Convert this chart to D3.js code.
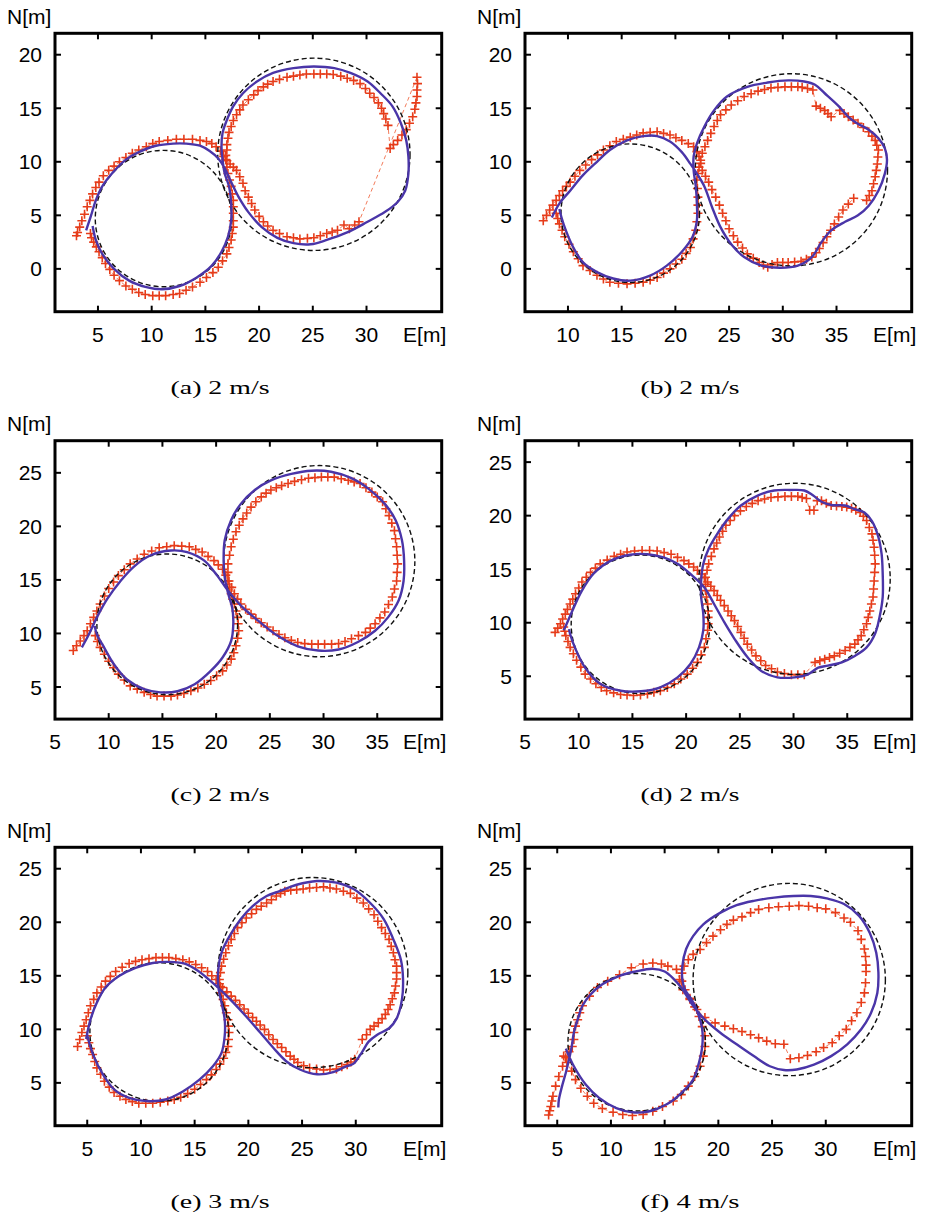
<!DOCTYPE html>
<html>
<head>
<meta charset="utf-8">
<script src="https://cdn.jsdelivr.net/npm/d3@7"></script>
<style>
  body { margin: 0; background: #fff; }
  svg text { font-family: "Liberation Sans", Arial, sans-serif; fill: #000; }
</style>
</head>
<body>
<svg id="chart" width="925" height="1222"></svg>
<script>
// panel labels and speeds
const panelIds = ["a", "b", "c", "d", "e", "f"];
const speeds = ["2 m/s", "2 m/s", "2 m/s", "2 m/s", "3 m/s", "4 m/s"];

// axis ranges [min, max] in metres
const xDomains = [[1, 37], [6, 42], [5, 41], [5, 41], [2, 38], [2, 38]];
const yDomains = [[-4, 22], [-4, 22], [2, 28], [1, 27], [1, 27], [1, 27]];

// tick labels
const xTicks = [
  [5, 10, 15, 20, 25, 30],
  [10, 15, 20, 25, 30, 35],
  [5, 10, 15, 20, 25, 30, 35],
  [5, 10, 15, 20, 25, 30, 35],
  [5, 10, 15, 20, 25, 30],
  [5, 10, 15, 20, 25, 30]
];
const yTicks = [
  [0, 5, 10, 15, 20],
  [0, 5, 10, 15, 20],
  [5, 10, 15, 20, 25],
  [5, 10, 15, 20, 25],
  [5, 10, 15, 20, 25],
  [5, 10, 15, 20, 25]
];

// reference circles [E, N, radius]
const circlesA = [[11.1, 4.7, 6.35], [25.1, 10.7, 8.95]];
const circlesB = [[15.8, 5.2, 6.45], [30.8, 9.25, 8.95]];
const circlesC = [[15.45, 10.85, 6.55], [29.6, 16.75, 8.9]];
const circlesD = [[15.75, 9.85, 6.45], [30.1, 14.1, 8.9]];
const circlesE = [[11.7, 9.75, 6.45], [26.0, 15.3, 8.85]];
const circlesF = [[12.4, 8.8, 6.4], [26.6, 14.65, 8.95]];

// blue (solid) trajectories [E, N]
const blueA = [[3.9,3.6],[4.3,4.8],[4.8,6.4],[5.4,7.7],[6.3,8.9],[7.6,10.2],[8.8,10.9],[10.4,11.5],[12.0,11.7],[13.2,11.7],[14.5,11.5],[15.4,11.0],[16.2,10.3],[16.8,9.4],[17.4,8.1],[18.1,6.7],[19.0,5.3],[20.25,3.9],[21.7,2.9],[23.2,2.4],[24.8,2.3],[26.3,2.7],[28.2,3.4],[30.1,4.4],[31.7,5.3],[32.9,6.25],[33.6,7.3],[33.9,8.9],[33.9,10.5],[33.7,12.0],[33.2,13.6],[32.4,15.2],[31.3,16.4],[30.1,17.5],[28.5,18.3],[27.0,18.75],[25.1,18.9],[23.2,18.75],[21.3,18.3],[19.8,17.5],[18.5,16.4],[17.6,15.2],[17.0,13.9],[16.6,12.7],[16.5,11.4],[16.6,10.2],[16.8,8.9],[17.2,7.7],[17.4,6.1],[17.4,4.5],[17.1,3.0],[16.5,1.6],[15.6,0.3],[14.2,-0.8],[12.6,-1.6],[11.0,-1.9],[9.5,-1.7],[7.9,-1.1],[6.5,0.0],[5.4,1.4],[4.8,2.7],[4.5,4.0]];
const blueB = [[8.5,4.8],[9.2,6.1],[10.2,7.3],[11.4,8.75],[12.7,10.0],[13.9,11.1],[15.5,12.0],[17.0,12.4],[18.3,12.4],[19.5,11.9],[20.6,10.9],[21.4,9.8],[22.0,8.9],[22.7,7.7],[23.4,5.8],[24.2,3.9],[25.2,2.3],[26.4,1.1],[28.0,0.3],[29.8,0.1],[31.4,0.3],[32.7,1.1],[33.6,2.5],[34.5,3.6],[35.8,4.4],[37.0,5.0],[38.0,5.9],[38.9,7.3],[39.5,8.9],[39.7,10.2],[39.5,11.25],[38.9,12.2],[38.0,13.0],[36.9,13.6],[36.1,14.2],[35.2,15.2],[33.9,16.4],[33.0,17.2],[32.0,17.5],[30.5,17.6],[28.6,17.4],[26.7,17.0],[24.8,16.1],[23.6,14.8],[22.7,13.3],[22.0,11.7],[21.7,10.5],[21.7,9.2],[21.9,7.7],[22.0,6.1],[22.0,4.5],[21.6,3.0],[20.6,1.6],[19.2,0.3],[17.7,-0.6],[15.8,-1.1],[14.2,-0.9],[12.7,-0.3],[11.4,0.6],[10.5,2.0],[9.8,3.6],[9.4,4.8],[9.2,5.6]];
const blueC = [[7.5,8.7],[8.1,9.8],[8.9,11.5],[9.85,13.2],[11.1,14.9],[12.3,16.2],[13.9,17.3],[15.8,17.75],[17.3,17.6],[18.9,16.8],[20.1,15.4],[21.1,14.0],[22.3,12.6],[23.9,11.2],[25.7,9.8],[27.6,8.8],[29.5,8.4],[31.4,8.5],[33.2,9.2],[34.8,10.25],[36.0,11.5],[37.0,13.1],[37.45,14.9],[37.5,16.8],[37.3,18.7],[36.7,20.6],[35.7,22.1],[34.2,23.5],[32.6,24.5],[30.7,25.1],[28.9,25.2],[27.0,24.9],[25.1,24.3],[23.6,23.4],[22.3,22.1],[21.4,20.6],[20.8,18.7],[20.7,16.8],[20.8,15.25],[21.1,13.8],[21.5,12.4],[21.6,10.9],[21.4,9.3],[20.6,7.75],[19.5,6.5],[18.0,5.25],[16.4,4.6],[14.8,4.5],[13.3,4.8],[11.7,5.7],[10.5,7.1],[9.4,9.0],[8.9,9.9],[8.7,10.7]];
const blueD = [[8.6,9.3],[8.75,9.6],[9.4,11.1],[10.3,13.0],[11.4,14.6],[13.0,15.8],[14.8,16.35],[16.4,16.4],[17.9,16.1],[19.2,15.5],[20.4,14.55],[21.7,13.3],[22.6,11.75],[23.55,10.05],[24.5,8.5],[25.7,6.8],[27.0,5.5],[28.5,4.9],[30.1,4.9],[31.3,5.15],[32.3,5.8],[33.2,6.0],[34.5,6.3],[35.7,6.9],[36.8,7.7],[37.6,9.0],[38.0,10.5],[38.3,12.4],[38.3,14.6],[38.2,16.4],[37.9,18.0],[37.3,19.5],[36.6,20.3],[35.7,20.6],[34.8,20.95],[33.5,21.0],[32.6,21.3],[31.8,21.9],[31.0,22.35],[29.7,22.4],[28.2,22.35],[26.7,21.9],[25.1,20.95],[23.9,19.7],[22.9,18.3],[22.1,16.9],[21.6,15.5],[21.4,13.9],[21.4,12.4],[21.6,10.8],[21.6,9.3],[21.2,7.7],[20.4,6.15],[19.2,4.9],[17.6,3.97],[15.8,3.6],[13.9,3.65],[12.0,4.3],[10.6,5.8],[9.7,7.55],[9.2,8.95],[9.1,9.4]];
const blueE = [[4.9,9.1],[5.3,10.9],[5.9,12.5],[6.7,13.9],[8.0,15.0],[9.5,15.75],[11.1,16.2],[12.6,16.3],[14.2,16.1],[15.4,15.4],[16.5,14.5],[17.5,13.6],[18.6,12.5],[19.8,11.2],[21.1,9.7],[22.3,8.3],[23.55,7.0],[24.8,6.25],[26.4,5.8],[27.9,6.0],[29.0,6.5],[29.8,6.8],[30.6,7.9],[31.2,8.85],[32.0,9.5],[33.1,10.1],[33.8,11.0],[34.3,12.8],[34.4,14.7],[34.2,16.5],[33.5,18.4],[32.6,20.3],[31.35,21.8],[29.8,23.1],[28.2,23.7],[26.4,23.85],[24.5,23.5],[22.9,22.9],[21.7,22.45],[20.4,21.5],[19.3,20.3],[18.25,18.7],[17.5,17.15],[17.2,15.6],[17.2,14.0],[17.5,12.5],[17.8,10.9],[17.8,9.4],[17.5,7.8],[16.7,6.55],[15.45,5.3],[13.9,4.2],[12.3,3.45],[10.5,3.3],[8.9,3.6],[7.5,4.4],[6.4,5.9],[5.6,7.5],[5.1,9.05],[5.0,9.5]];
const blueF = [[5.1,2.7],[5.15,3.4],[5.45,4.7],[5.8,5.95],[6.1,7.2],[6.35,8.4],[6.55,9.7],[6.9,10.9],[7.35,12.2],[8.1,13.25],[9.2,14.2],[10.8,15.0],[12.3,15.4],[13.9,15.65],[15.0,15.4],[15.9,14.65],[16.55,13.9],[17.65,12.2],[18.75,10.9],[20.15,9.7],[21.7,8.6],[23.3,7.5],[24.8,6.55],[26.1,6.2],[27.3,6.25],[28.9,6.7],[30.5,7.5],[32.0,8.6],[33.3,10.0],[34.2,11.5],[34.8,13.4],[34.9,15.3],[34.7,17.15],[34.1,19.0],[33.1,20.6],[31.7,21.7],[30.2,22.2],[28.6,22.45],[27.0,22.45],[25.2,22.3],[23.3,22.0],[21.7,21.6],[20.2,20.9],[18.6,19.8],[17.65,18.7],[17.0,17.5],[16.65,15.9],[16.65,14.65],[16.9,13.7],[17.5,12.8],[18.1,11.5],[18.5,10.0],[18.5,8.4],[18.2,6.9],[17.65,5.3],[16.6,4.1],[15.2,3.0],[13.6,2.35],[12.0,2.25],[10.5,2.65],[8.9,3.6],[7.65,4.85],[6.55,6.55],[5.8,8.2]];

// red (+) measured positions [E, N]
const redA = [[3.0,3.1],[3.1,3.4],[3.3,3.9],[3.5,4.5],[3.75,5.1],[4.0,5.8],[4.25,6.4],[4.5,7.0],[4.8,7.6],[5.1,8.1],[5.5,8.7],[6.0,9.2],[6.5,9.6],[7.0,10.0],[7.6,10.4],[8.2,10.8],[8.8,11.1],[9.5,11.4],[10.1,11.7],[10.7,11.9],[11.5,12.0],[12.3,12.1],[13.0,12.1],[13.8,12.1],[14.5,12.0],[15.1,11.9],[15.6,11.7],[16.0,11.4],[16.4,11.0],[16.7,10.5],[17.0,10.1],[17.3,9.8],[17.6,9.5],[17.9,9.2],[18.2,8.6],[18.5,8.0],[18.7,7.3],[19.0,6.7],[19.3,6.1],[19.6,5.5],[20.0,4.9],[20.4,4.4],[20.8,4.0],[21.3,3.6],[21.9,3.3],[22.6,3.0],[23.2,2.9],[23.8,2.8],[24.5,2.85],[25.1,2.9],[25.7,3.1],[26.3,3.3],[26.8,3.45],[27.3,3.6],[27.9,4.1],[28.4,3.75],[28.9,4.1],[29.3,4.4],
  [34.7,17.9],[34.75,17.3],[34.7,16.7],[34.7,16.1],[34.6,15.5],[34.5,14.9],[34.3,14.2],[34.0,13.6],[33.7,13.0],[33.3,12.5],[32.9,12.0],[32.5,11.6],[32.2,11.25],
  [32.0,13.4],[31.8,14.0],[31.6,14.5],[31.4,15.0],[31.1,15.5],[30.7,16.0],[30.3,16.4],[29.9,16.85],[29.4,17.3],[28.8,17.6],[28.2,17.8],[27.6,18.0],[26.9,18.15],[26.3,18.2],[25.7,18.2],[25.1,18.2],[24.4,18.2],[23.8,18.1],[23.2,18.0],[22.6,17.9],[21.9,17.7],[21.3,17.5],[20.8,17.25],[20.4,17.0],[19.9,16.65],[19.5,16.25],[19.0,15.8],[18.5,15.3],[18.2,14.85],[17.9,14.4],[17.6,13.85],[17.4,13.3],[17.2,12.75],[17.1,12.2],[17.0,11.6],[17.0,11.1],[16.9,10.6],[16.9,10.2],[17.0,9.5],[17.1,8.9],[17.25,8.3],[17.4,7.7],[17.5,7.0],[17.6,6.4],[17.6,5.8],[17.6,5.2],[17.6,4.5],[17.6,3.9],[17.5,3.3],[17.4,2.7],[17.2,2.0],[17.0,1.4],[16.6,0.75],[16.2,0.15],[15.7,-0.35],[15.1,-0.8],[14.5,-1.25],[13.8,-1.7],[13.2,-2.0],[12.6,-2.3],[12.0,-2.4],[11.3,-2.5],[10.7,-2.5],[10.1,-2.5],[9.4,-2.4],[8.8,-2.2],[8.2,-1.9],[7.6,-1.6],[7.0,-1.1],[6.5,-0.6],[6.1,-0.05],[5.7,0.5],[5.4,1.05],[5.1,1.6],[4.85,2.05],[4.6,2.5],[4.4,2.9],[4.3,3.3]];
const redB = [[7.7,4.5],[8.0,5.0],[8.3,5.5],[8.6,5.95],[8.9,6.4],[9.2,6.85],[9.5,7.3],[9.85,7.7],[10.2,8.1],[10.65,8.65],[11.1,9.2],[11.65,9.7],[12.2,10.2],[12.75,10.65],[13.3,11.1],[13.9,11.5],[14.5,11.9],[15.15,12.1],[15.8,12.3],[16.4,12.5],[17.0,12.7],[17.65,12.75],[18.3,12.8],[18.9,12.65],[19.5,12.5],[20.05,12.25],[20.6,12.0],[21.2,11.7],[21.7,11.4],[22.0,10.95],[22.2,10.5],[22.35,9.85],[22.5,9.2],[22.8,8.65],[23.1,8.1],[23.4,7.4],[23.75,6.7],[24.1,5.95],[24.4,5.2],[24.7,4.5],[25.0,3.75],[25.4,3.1],[25.8,2.5],[26.25,1.95],[26.7,1.4],[27.25,1.0],[27.8,0.6],[28.2,0.35],[28.6,0.15],[29.0,0.4],[29.5,0.6],[30.0,0.6],[30.5,0.6],[31.1,0.65],[31.7,0.7],[32.2,0.9],[32.7,1.1],[33.1,1.5],[33.4,1.9],[33.75,2.45],[34.1,3.0],[34.45,3.6],[34.8,4.2],[35.2,4.85],[35.6,5.5],[36.1,6.05],[36.6,6.6],
  [37.8,6.4],[38.05,6.85],[38.3,7.3],[38.45,7.95],[38.6,8.6],[38.7,9.2],[38.8,9.8],[38.85,10.45],[38.9,11.1],[38.75,11.55],[38.6,12.0],[38.3,12.4],[38.0,12.8],[37.5,13.2],[37.0,13.6],[36.55,13.9],[36.1,14.2],[35.7,14.5],[35.3,14.8],
  [34.5,14.2],[34.2,14.5],[33.9,14.8],[33.5,15.0],[33.1,15.2],[32.8,16.7],[32.3,16.85],
  [31.8,16.95],[31.4,17.0],[30.8,17.0],[30.2,17.0],[29.55,16.95],[28.9,16.9],[28.3,16.75],[27.7,16.6],[27.05,16.35],[26.4,16.1],[25.8,15.7],[25.2,15.3],[24.7,14.85],[24.2,14.4],[23.9,13.85],[23.6,13.3],[23.3,12.65],[23.0,12.0],[22.75,11.4],[22.5,10.8],[22.35,10.15],[22.2,9.5],[22.1,8.9],[22.0,8.3],[22.05,7.5],[22.1,6.7],[22.1,5.95],[22.1,5.2],[22.0,4.4],[21.9,3.6],[21.65,2.8],[21.4,2.0],[21.0,1.45],[20.6,0.9],[20.05,0.45],[19.5,0.0],[18.9,-0.4],[18.3,-0.8],[17.65,-1.05],[17.0,-1.25],[16.25,-1.35],[15.5,-1.4],[14.7,-1.35],[13.9,-1.25],[13.3,-0.95],[12.7,-0.6],[12.05,-0.15],[11.4,0.3],[10.95,0.95],[10.5,1.6],[10.1,2.3],[9.7,3.0],[9.45,3.6],[9.2,4.2],[9.05,4.7],[8.9,5.2]];
const redC = [[6.7,8.4],[7.0,8.85],[7.35,9.3],[7.7,9.8],[8.0,10.25],[8.3,10.9],[8.6,11.5],[8.9,12.1],[9.2,12.75],[9.6,13.5],[10.0,14.2],[10.45,14.8],[10.9,15.4],[11.45,15.95],[12.0,16.5],[12.65,16.95],[13.3,17.4],[14.0,17.7],[14.7,18.0],[15.4,18.1],[16.1,18.2],[16.8,18.15],[17.5,18.1],[18.1,17.85],[18.7,17.6],[19.25,17.2],[19.8,16.8],[20.2,16.4],[20.6,16.0],[20.9,15.45],[21.2,14.9],[21.45,14.3],[21.7,13.7],[22.0,13.2],[22.3,12.75],[22.75,12.25],[23.25,11.8],[23.7,11.4],[24.2,11.0],[24.75,10.6],[25.3,10.25],[25.85,9.9],[26.4,9.6],[27.0,9.35],[27.6,9.15],[28.25,9.05],[28.9,9.0],[29.5,9.0],[30.1,9.0],[30.75,9.0],[31.4,9.05],[32.0,9.25],[32.6,9.5],[33.25,9.8],[33.9,10.1],[34.35,10.5],[34.8,10.9],[35.25,11.45],[35.7,12.0],[36.05,12.7],[36.4,13.4],[36.6,14.15],[36.8,14.9],[36.85,15.7],[36.9,16.5],[36.85,17.3],[36.8,18.1],[36.7,18.85],[36.6,19.6],[36.35,20.3],[36.1,21.0],[35.8,21.65],[35.5,22.3],[35.0,22.75],[34.5,23.2],[33.95,23.6],[33.4,24.0],[32.85,24.15],[32.3,24.3],[31.65,24.45],[31.0,24.6],[30.4,24.6],[29.8,24.6],[29.2,24.55],[28.6,24.5],[27.95,24.35],[27.3,24.2],[26.7,24.0],[26.1,23.8],[25.6,23.6],[25.1,23.4],[24.65,23.1],[24.2,22.75],[23.7,22.3],[23.25,21.8],[22.85,21.25],[22.5,20.7],[22.15,20.1],[21.85,19.5],[21.6,18.8],[21.4,18.1],[21.25,17.3],[21.1,16.5],[21.1,15.7],[21.1,14.9],[21.25,14.3],[21.4,13.7],[21.55,13.2],[21.7,12.75],[21.85,12.1],[22.0,11.5],[22.05,10.9],[22.1,10.25],[22.0,9.55],[21.85,8.85],[21.65,8.2],[21.4,7.6],[21.0,7.05],[20.6,6.5],[20.05,6.05],[19.5,5.6],[18.9,5.25],[18.3,4.9],[17.65,4.65],[17.0,4.4],[16.4,4.25],[15.8,4.15],[15.15,4.15],[14.5,4.15],[13.9,4.3],[13.3,4.5],[12.65,4.8],[12.0,5.1],[11.45,5.65],[10.9,6.2],[10.45,6.8],[10.0,7.4],[9.6,8.05],[9.2,8.7],[8.95,9.25],[8.75,9.8]];
const redD = [[7.8,9.1],[8.05,9.5],[8.3,9.9],[8.5,10.35],[8.75,10.8],[8.95,11.25],[9.2,11.75],[9.45,12.2],[9.7,12.7],[10.0,13.25],[10.3,13.8],[10.7,14.25],[11.1,14.7],[11.55,15.1],[12.0,15.5],[12.65,15.85],[13.3,16.2],[13.9,16.4],[14.5,16.6],[15.2,16.7],[15.9,16.75],[16.6,16.75],[17.3,16.7],[17.95,16.55],[18.6,16.4],[19.2,16.1],[19.8,15.8],[20.25,15.5],[20.7,15.2],[21.05,14.9],[21.4,14.55],[21.7,14.2],[22.0,13.8],[22.3,13.4],[22.6,13.0],[22.9,12.55],[23.2,12.1],[23.55,11.6],[23.9,11.1],[24.2,10.65],[24.5,10.2],[24.8,9.65],[25.1,9.1],[25.4,8.55],[25.7,8.0],[26.1,7.45],[26.5,6.9],[26.95,6.45],[27.4,6.0],[27.95,5.7],[28.5,5.4],[29.15,5.25],[29.8,5.15],[30.4,5.15],[31.0,5.15],
  [32.0,6.3],[32.45,6.45],[32.9,6.6],[33.35,6.75],[33.8,6.9],[34.3,7.15],[34.8,7.4],[35.25,7.7],[35.7,8.0],[36.0,8.4],[36.3,8.8],[36.55,9.35],[36.8,9.9],[36.95,10.5],[37.1,11.1],[37.25,11.75],[37.4,12.4],[37.45,13.15],[37.5,13.9],[37.55,14.7],[37.6,15.5],[37.55,16.3],[37.5,17.05],[37.4,17.7],[37.3,18.3],[37.05,18.9],[36.8,19.55],[36.5,19.95],[36.2,20.3],[35.8,20.5],[35.4,20.7],[34.95,20.8],[34.5,20.85],[34.0,20.9],[33.5,20.95],[33.05,21.15],[32.6,21.4],[32.2,21.4],
  [31.9,20.5],[31.5,20.5],
  [31.2,21.6],[30.8,21.7],[30.4,21.8],[29.8,21.8],[29.2,21.8],[28.55,21.75],[27.9,21.7],[27.3,21.55],[26.7,21.4],[26.15,21.15],[25.6,20.85],[25.05,20.45],[24.5,20.0],[24.1,19.55],[23.7,19.1],[23.4,18.55],[23.1,18.0],[22.85,17.45],[22.6,16.9],[22.35,16.2],[22.1,15.5],[21.95,14.9],[21.8,14.25],[21.8,13.6],[21.8,13.0],[21.9,12.4],[22.0,11.75],[22.05,11.1],[22.05,10.5],[22.05,9.9],[22.0,9.3],[21.85,8.5],[21.7,7.7],[21.4,7.0],[21.05,6.3],[20.6,5.75],[20.1,5.2],[19.5,4.75],[18.9,4.3],[18.25,3.95],[17.6,3.65],[17.0,3.5],[16.4,3.35],[15.75,3.25],[15.1,3.2],[14.5,3.25],[13.9,3.3],[13.25,3.45],[12.6,3.65],[12.1,3.95],[11.6,4.3],[11.1,4.75],[10.6,5.2],[10.2,5.85],[9.8,6.5],[9.5,7.1],[9.2,7.7],[9.0,8.25],[8.8,8.8],[8.7,9.2],[8.6,9.6]];
const redE = [[4.1,8.4],[4.3,9.05],[4.5,9.7],[4.7,10.3],[4.9,10.9],[5.1,11.55],[5.3,12.2],[5.6,12.8],[5.9,13.4],[6.3,13.95],[6.7,14.5],[7.15,14.95],[7.65,15.4],[8.25,15.8],[8.9,16.15],[9.5,16.35],[10.1,16.5],[10.75,16.6],[11.4,16.7],[12.0,16.7],[12.6,16.7],[13.25,16.6],[13.9,16.5],[14.5,16.3],[15.1,16.05],[15.65,15.75],[16.2,15.4],[16.6,15.0],[17.0,14.65],[17.3,14.25],[17.6,13.9],[18.0,13.5],[18.4,13.1],[18.8,12.7],[19.2,12.3],[19.6,11.9],[20.0,11.5],[20.4,11.1],[20.75,10.75],[21.1,10.4],[21.5,10.0],[21.9,9.5],[22.3,9.05],[22.7,8.65],[23.1,8.3],[23.5,7.9],[23.9,7.5],[24.25,7.2],[24.6,6.9],[25.15,6.6],[25.7,6.4],[26.35,6.3],[27.0,6.2],[27.6,6.25],[28.2,6.3],[28.7,6.5],[29.2,6.7],[29.55,6.95],[29.9,7.2],
  [30.6,9.05],[31.0,9.5],[31.35,10.0],[31.7,10.3],[32.1,10.6],[32.45,11.0],[32.75,11.4],[33.0,11.85],[33.2,12.3],[33.4,12.85],[33.6,13.4],[33.7,14.05],[33.8,14.7],[33.8,15.3],[33.8,15.9],[33.65,16.5],[33.5,17.15],[33.3,17.75],[33.1,18.4],[32.75,18.95],[32.4,19.5],[32.05,20.1],[31.7,20.7],[31.2,21.25],[30.7,21.8],[30.1,22.25],[29.5,22.7],[28.85,22.9],[28.2,23.1],[27.6,23.2],[27.0,23.3],[26.35,23.25],[25.7,23.2],[25.1,23.1],[24.5,23.05],[23.95,23.0],[23.4,22.9],[23.0,22.7],[22.6,22.45],[22.15,22.1],[21.7,21.8],[21.2,21.5],[20.75,21.2],[20.3,20.8],[19.8,20.4],[19.4,19.95],[19.0,19.5],[18.7,18.95],[18.4,18.4],[18.15,17.8],[17.9,17.15],[17.7,16.55],[17.5,15.9],[17.4,15.3],[17.3,14.65],[17.4,14.0],[17.5,13.4],[17.65,12.8],[17.8,12.2],[17.95,11.55],[18.1,10.9],[18.15,10.3],[18.2,9.7],[18.15,9.05],[18.1,8.4],[17.9,7.85],[17.7,7.3],[17.35,6.75],[17.0,6.25],[16.55,5.75],[16.1,5.3],[15.55,4.85],[15.0,4.4],[14.35,4.0],[13.7,3.65],[13.1,3.45],[12.5,3.3],[11.8,3.2],[11.1,3.1],[10.45,3.1],[9.8,3.1],[9.2,3.25],[8.6,3.45],[8.05,3.75],[7.5,4.1],[7.05,4.6],[6.6,5.15],[6.25,5.8],[5.9,6.4],[5.7,7.0],[5.5,7.65],[5.3,8.2],[5.15,8.75],[5.0,9.4]];
const redF = [[4.2,2.0],[4.3,2.4],[4.4,2.8],[4.5,3.3],[4.6,3.75],[4.85,4.7],[5.15,5.6],[5.5,6.55],[5.8,7.35],[6.1,7.9],[6.4,8.4],[6.55,9.05],[6.55,9.7],[6.7,10.3],[6.9,10.9],[7.1,11.55],[7.35,12.2],[8.0,13.1],[8.75,13.9],[9.7,14.5],[10.8,15.1],[11.9,15.75],[13.0,16.1],[13.9,16.2],[14.7,16.1],[15.3,15.9],[16.1,15.6],[16.4,14.65],[16.7,13.7],[17.35,12.8],[18.0,11.85],[18.75,11.1],[19.7,10.6],[20.6,10.3],[21.4,10.05],[22.2,9.8],[23.0,9.5],[23.75,9.2],[24.5,8.9],[25.3,8.65],[26.1,8.6],
  [26.7,7.25],[27.5,7.35],[28.3,7.55],[29.1,7.9],[29.8,8.3],[30.6,8.75],[31.25,9.4],[31.9,10.0],[32.4,10.8],[32.9,11.55],[33.3,12.5],[33.6,13.4],[33.7,14.35],[33.75,15.4],[33.75,16.0],[33.7,16.8],[33.6,17.5],[33.3,18.4],[33.0,19.2],[32.3,20.0],[31.7,20.4],[30.9,20.9],[30.0,21.25],[29.2,21.35],[28.4,21.5],[27.5,21.55],[26.6,21.5],[25.6,21.45],[24.7,21.35],[23.75,21.2],[23.0,20.9],[22.2,20.5],[21.4,20.2],[20.8,19.8],[20.2,19.3],[19.5,18.7],[18.9,18.1],[18.3,17.45],[17.65,17.0],[17.2,16.5],[16.8,15.9],[16.6,15.25],[16.6,14.5],[16.9,13.7],[17.35,12.9],[17.8,12.1],[18.2,11.2],[18.5,10.25],[18.75,9.4],[18.75,8.4],[18.6,7.5],[18.3,6.55],[17.8,5.6],[17.2,4.7],[16.55,3.9],[15.8,3.3],[14.8,2.8],[13.9,2.35],[13.0,2.05],[12.0,1.95],[11.1,2.05],[10.2,2.25],[9.2,2.6],[8.4,3.1],[7.8,3.75],[7.2,4.5],[6.7,5.3],[6.35,6.1],[5.9,6.9],[5.6,7.5]];

const circles = [circlesA, circlesB, circlesC, circlesD, circlesE, circlesF];
const blues = [blueA, blueB, blueC, blueD, blueE, blueF];
const reds = [redA, redB, redC, redD, redE, redF];

// layout
const plotW = 386.7, plotH = 278.4;
const colLeft = [55, 525];
const rowTop = [33.3, 440.7, 847.3];
const tickLen = 6;

const svg = d3.select("#chart");

panelIds.forEach((id, i) => {
  const left = colLeft[i % 2];
  const top = rowTop[Math.floor(i / 2)];

  const x = d3.scaleLinear().domain(xDomains[i]).range([left, left + plotW]);
  const y = d3.scaleLinear().domain(yDomains[i]).range([top + plotH, top]);

  const g = svg.append("g").attr("class", "panel-" + id);

  g.append("clipPath").attr("id", "clip-" + id)
    .append("rect")
      .attr("x", left).attr("y", top)
      .attr("width", plotW).attr("height", plotH);

  const plot = g.append("g").attr("clip-path", `url(#clip-${id})`);

  // red measured track: thin dashed line + markers
  plot.append("path")
    .datum(reds[i])
    .attr("fill", "none")
    .attr("stroke", "#ef5a32")
    .attr("stroke-width", 0.8)
    .attr("stroke-dasharray", "4,3")
    .attr("d", d3.line().x(d => x(d[0])).y(d => y(d[1])));

  plot.selectAll("path.mark")
    .data(reds[i])
    .enter()
    .append("path")
      .attr("class", "mark")
      .attr("transform", d => `translate(${x(d[0])},${y(d[1])})`)
      .attr("d", "M-4.5,0H4.5M0,-4.5V4.5")
      .attr("stroke", "#e63c1a")
      .attr("stroke-width", 1.6);

  // reference circles
  plot.selectAll("circle")
    .data(circles[i])
    .enter()
    .append("circle")
      .attr("cx", d => x(d[0]))
      .attr("cy", d => y(d[1]))
      .attr("r", d => x(d[0] + d[2]) - x(d[0]))
      .attr("fill", "none")
      .attr("stroke", "#111")
      .attr("stroke-width", 1.4)
      .attr("stroke-dasharray", "5,3");

  // blue reference path
  plot.append("path")
    .datum(blues[i])
    .attr("fill", "none")
    .attr("stroke", "#4a35a8")
    .attr("stroke-width", 2.4)
    .attr("stroke-linejoin", "round")
    .attr("d", d3.line().curve(d3.curveCatmullRom.alpha(0.5)).x(d => x(d[0])).y(d => y(d[1])));

  // inward ticks on all four sides
  const ticks = g.append("g").attr("stroke", "#000").attr("stroke-width", 2);
  xTicks[i].forEach(t => {
    ticks.append("line").attr("x1", x(t)).attr("x2", x(t)).attr("y1", top + plotH).attr("y2", top + plotH - tickLen);
    ticks.append("line").attr("x1", x(t)).attr("x2", x(t)).attr("y1", top).attr("y2", top + tickLen);
  });
  yTicks[i].forEach(t => {
    ticks.append("line").attr("x1", left).attr("x2", left + tickLen).attr("y1", y(t)).attr("y2", y(t));
    ticks.append("line").attr("x1", left + plotW).attr("x2", left + plotW - tickLen).attr("y1", y(t)).attr("y2", y(t));
  });

  // frame
  g.append("rect")
    .attr("x", left).attr("y", top)
    .attr("width", plotW).attr("height", plotH)
    .attr("fill", "none").attr("stroke", "#000").attr("stroke-width", 3);

  // tick labels
  g.selectAll("text.xt")
    .data(xTicks[i])
    .enter()
    .append("text")
      .attr("class", "xt")
      .attr("x", d => x(d))
      .attr("y", top + plotH + 30)
      .attr("text-anchor", "middle")
      .attr("font-size", 21)
      .text(d => d);

  g.selectAll("text.yt")
    .data(yTicks[i])
    .enter()
    .append("text")
      .attr("class", "yt")
      .attr("x", left - 13)
      .attr("y", d => y(d))
      .attr("dy", "0.36em")
      .attr("text-anchor", "end")
      .attr("font-size", 21)
      .text(d => d);

  // axis names
  g.append("text")
    .attr("x", left + plotW - 17)
    .attr("y", top + plotH + 30)
    .attr("text-anchor", "middle")
    .attr("font-size", 21)
    .text("E[m]");

  g.append("text")
    .attr("x", left - 48)
    .attr("y", top - 9.5)
    .attr("font-size", 21)
    .text("N[m]");

  // caption
  g.append("text")
    .attr("x", left + 165)
    .attr("y", top + plotH + 82)
    .attr("text-anchor", "middle")
    .attr("font-size", 19)
    .attr("textLength", 99)
    .attr("lengthAdjust", "spacingAndGlyphs")
    .style("font-family", '"Liberation Serif", "DejaVu Serif", serif')
    .text(`(${id}) ${speeds[i]}`);
});
</script>
</body>
</html>
